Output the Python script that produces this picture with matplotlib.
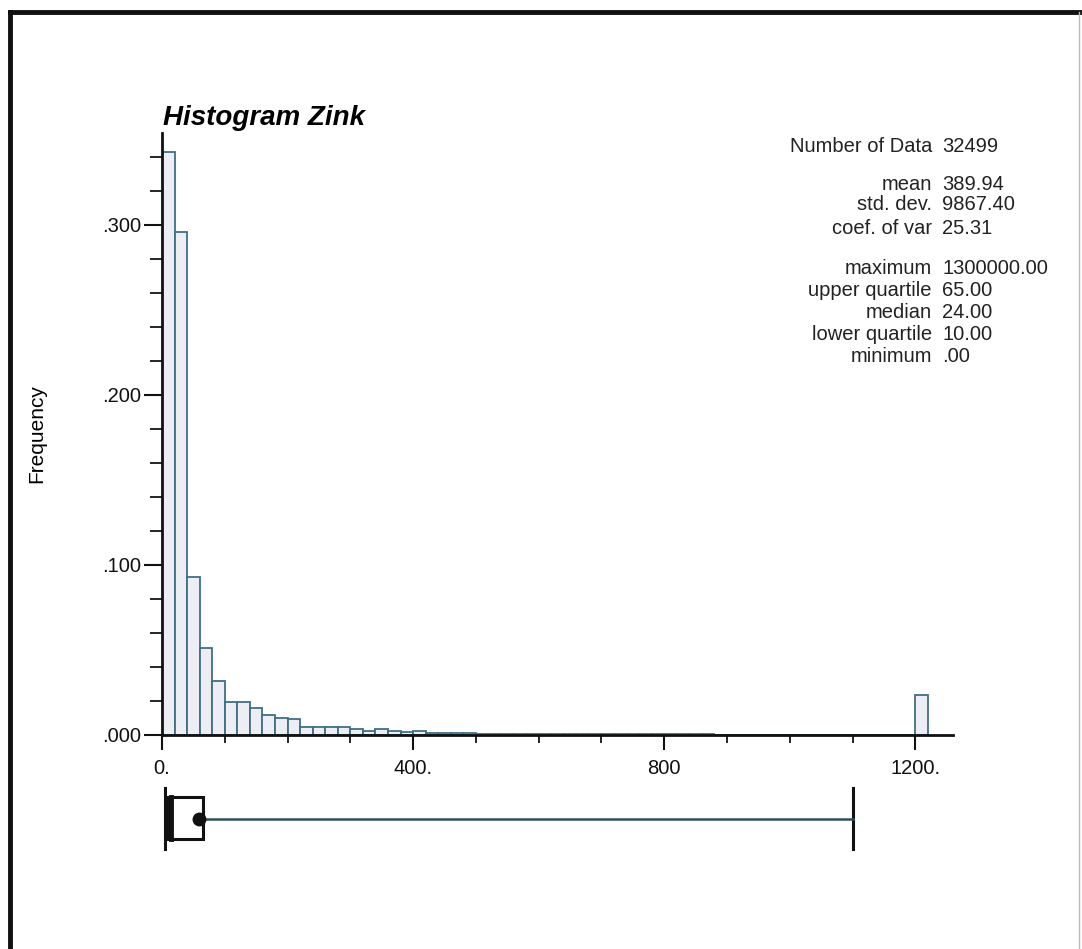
import matplotlib
matplotlib.use("Agg")
import matplotlib.pyplot as plt
from matplotlib.lines import Line2D
from matplotlib.patches import Rectangle

# Histogram class frequencies (class width 20, last class collects everything >= 1200)
bin_left = list(range(0, 1200, 20)) + [1200]
freq = [0.343, 0.296, 0.093, 0.0514, 0.032, 0.0196, 0.0196, 0.0157, 0.0118, 0.0098,
        0.0092, 0.0049, 0.0049, 0.0049, 0.0049, 0.0033, 0.0025, 0.0035, 0.0025, 0.0020,
        0.0025, 0.0012, 0.0010, 0.0010, 0.0009, 0.0008, 0.0008, 0.0007, 0.0007, 0.0006,
        0.0006, 0.0005, 0.0005, 0.0005, 0.0004, 0.0004, 0.0004, 0.0004, 0.0003, 0.0003,
        0.0003, 0.0003, 0.0003, 0.0003, 0.0002, 0.0002, 0.0002, 0.0002, 0.0002, 0.0002,
        0.0002, 0.0002, 0.0002, 0.0002, 0.0001, 0.0001, 0.0001, 0.0001, 0.0001, 0.0001,
        0.0235]

# Box plot summary
whisker_low = 4
whisker_high = 1100
lower_quartile = 10
median = 24
upper_quartile = 65
box_dot = 59

# Statistics table
stat_labels = ["Number of Data", "mean", "std. dev.", "coef. of var",
               "maximum", "upper quartile", "median", "lower quartile", "minimum"]
stat_values = ["32499", "389.94", "9867.40", "25.31",
               "1300000.00", "65.00", "24.00", "10.00", ".00"]

x_ticks = [0, 400, 800, 1200]
x_tick_labels = ["0.", "400.", "800", "1200."]
y_ticks = [0.0, 0.1, 0.2, 0.3]
y_tick_labels = [".000", ".100", ".200", ".300"]

W, H = 1082, 949
plt.rcParams['font.family'] = ['Liberation Sans', 'DejaVu Sans']

fig = plt.figure(figsize=(W / 100, H / 100), dpi=100)
fig.patch.set_facecolor("white")


def fx(px):
    return px / W


def fy(py):
    return 1 - py / H


# Main histogram axes
ax = fig.add_axes([fx(162), fy(735), fx(953) - fx(162), fy(133) - fy(735)])
ax.bar(bin_left, freq, width=20, align="edge", color="#eceef4",
       edgecolor="#3f6f86", linewidth=1.3)
ax.set_xlim(0, 1260)
ax.set_ylim(0, 0.354)

for side in ["top", "right"]:
    ax.spines[side].set_visible(False)
for side in ["left", "bottom"]:
    ax.spines[side].set_linewidth(2)
    ax.spines[side].set_color("#111")

ax.set_xticks(x_ticks)
ax.set_xticklabels(x_tick_labels)
ax.set_xticks(range(0, 1260, 100), minor=True)
ax.set_yticks(y_ticks)
ax.set_yticklabels(y_tick_labels)
ax.set_yticks([i * 0.02 for i in range(18)], minor=True)
ax.tick_params(axis="x", which="major", length=11, width=1.5, direction="out",
               labelsize=14.5, colors="#111", pad=6)
ax.tick_params(axis="x", which="minor", length=6, width=1.2, direction="out")
ax.tick_params(axis="y", which="major", length=13, width=1.5, direction="out",
               labelsize=14.5, colors="#111", pad=2)
ax.tick_params(axis="y", which="minor", length=8.5, width=1.2, direction="out")

ax.set_ylabel("Frequency", fontsize=15, labelpad=40)

fig.text(fx(163), fy(118), "Histogram Zink", fontsize=20, fontweight="bold",
         fontstyle="italic", ha="left", va="center")

# Box plot under the histogram, same x scale
bx = fig.add_axes([fx(162), fy(870), fx(953) - fx(162), fy(770) - fy(870)])
bx.set_xlim(0, 1260)
bx.set_ylim(0, 1)
bx.axis("off")
bx.add_line(Line2D([whisker_low, whisker_low], [0.21, 0.82], color="#111", lw=2.2))
bx.add_line(Line2D([whisker_high, whisker_high], [0.21, 0.82], color="#111", lw=2.2))
bx.add_line(Line2D([upper_quartile, whisker_high], [0.51, 0.51], color="#2f4f5f", lw=1.8))
bx.add_patch(Rectangle((lower_quartile, 0.31), upper_quartile - lower_quartile, 0.42,
                       fill=False, edgecolor="#111", lw=2.2))
bx.add_line(Line2D([median - 9, median - 9], [0.31, 0.73], color="#111", lw=3.5))
bx.plot([box_dot], [0.51], "o", color="#111", markersize=9)

# Statistics block
rows_y = [146, 184, 205, 228, 269, 291, 313, 335, 356]
for lab, val, y in zip(stat_labels, stat_values, rows_y):
    fig.text(fx(932), fy(y), lab, fontsize=14.5, ha="right", va="center", color="#222")
    fig.text(fx(942), fy(y), val, fontsize=14.5, ha="left", va="center", color="#222")

# Outer frame
fig.add_artist(Line2D([fx(10), fx(1082)], [fy(12), fy(12)], color="#111", lw=3.5))
fig.add_artist(Line2D([fx(10), fx(10)], [fy(12), fy(949)], color="#111", lw=3.5))
fig.add_artist(Line2D([fx(1079), fx(1079)], [fy(12), fy(949)], color="#bbb", lw=1))

fig.savefig("out.png", dpi=100)
